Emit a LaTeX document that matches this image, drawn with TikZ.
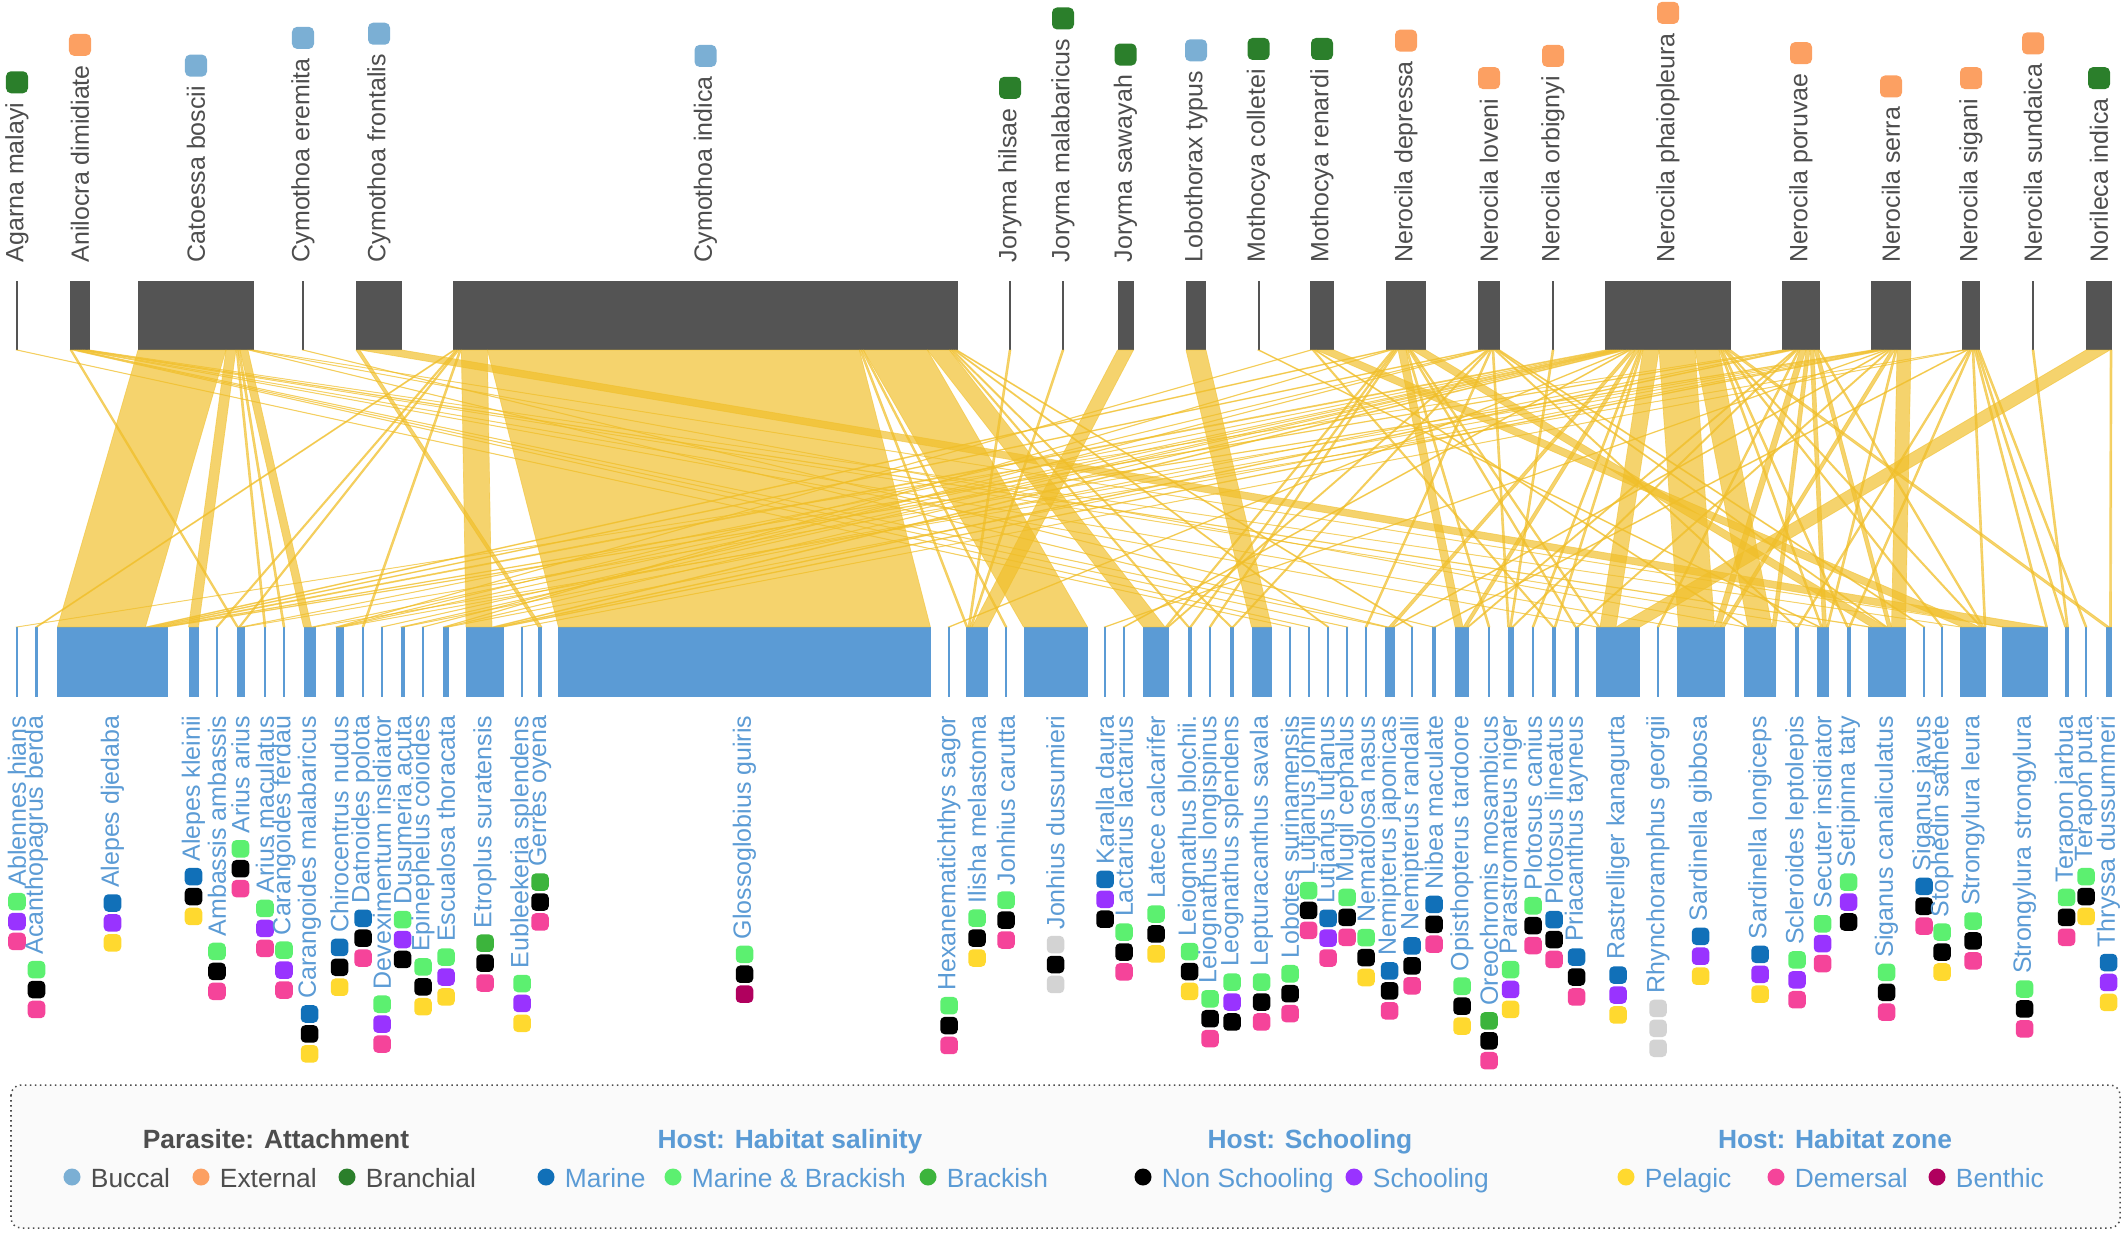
\documentclass[tikz,border=0pt]{standalone}
\usepackage{fontspec}
\setmainfont{Liberation Sans}
\usetikzlibrary{positioning,calc}

\definecolor{pargray}{HTML}{545454}
\definecolor{lbltop}{HTML}{4D4D4D}
\definecolor{hostblue}{HTML}{5B9BD5}
\definecolor{lnkyel}{RGB}{240,190,40}
\definecolor{buc}{HTML}{7BAFD4}
\definecolor{ext}{HTML}{FCA062}
\definecolor{bra}{HTML}{2B7F2B}
\definecolor{mar}{HTML}{1170B8}
\definecolor{mab}{HTML}{5CF070}
\definecolor{brk}{HTML}{3CB43C}
\definecolor{nsch}{HTML}{000000}
\definecolor{sch}{HTML}{9933FF}
\definecolor{pel}{HTML}{FFD92F}
\definecolor{dem}{HTML}{F5449A}
\definecolor{ben}{HTML}{B0005E}
\definecolor{unk}{HTML}{D3D3D3}

\tikzset{
  pbar/.style={fill=pargray, inner sep=0, outer sep=0, minimum height=0.69cm},
  hbar/.style={fill=hostblue, inner sep=0, outer sep=0, minimum height=0.70cm},
  plbl/.style={rotate=90, anchor=west, inner sep=0, text=lbltop, font=\fontsize{7.1pt}{8.5pt}\selectfont},
  hlbl/.style={rotate=90, anchor=east, inner sep=0, text=hostblue, font=\fontsize{7.1pt}{8.5pt}\selectfont},
  pmark/.style={inner sep=0, minimum size=0.22cm, rounded corners=0.05cm},
  hmark/.style={inner sep=0, minimum size=0.175cm, rounded corners=0.045cm},
  lnkfill/.style={fill=lnkyel, fill opacity=0.68, draw=lnkyel, draw opacity=0.55, line width=0.007cm, line join=round},
  lgdot/.style={circle, inner sep=0, minimum size=0.17cm},
  lgtitle/.style={font=\bfseries\fontsize{7.5pt}{9pt}\selectfont, inner sep=0, text height=1.6ex, text depth=0.45ex},
  lgtxt/.style={font=\fontsize{7.5pt}{9pt}\selectfont, inner sep=0, anchor=west, text height=1.6ex, text depth=0.45ex},
}

% ribbon from parasite #1 to host #2, weight #3 (stacked left to right)
\newcommand{\lnk}[3]{%
  \ifcsname off#1\endcsname\else\expandafter\gdef\csname off#1\endcsname{0}\fi
  \ifcsname off#2\endcsname\else\expandafter\gdef\csname off#2\endcsname{0}\fi
  \pgfmathsetmacro{\lkta}{2*\csname off#1\endcsname}%
  \pgfmathsetmacro{\lktb}{\lkta+2*#3}%
  \pgfmathsetmacro{\lkba}{2*\csname off#2\endcsname}%
  \pgfmathsetmacro{\lkbb}{\lkba+2*#3}%
  \filldraw[lnkfill] ($(#1.south west)+(\lkta,0)$) -- ($(#1.south west)+(\lktb,0)$)
    -- ($(#2.north west)+(\lkbb,0)$) -- ($(#2.north west)+(\lkba,0)$) -- cycle;
  \pgfmathsetmacro{\lktmp}{\csname off#1\endcsname+#3}\expandafter\xdef\csname off#1\endcsname{\lktmp}%
  \pgfmathsetmacro{\lktmp}{\csname off#2\endcsname+#3}\expandafter\xdef\csname off#2\endcsname{\lktmp}%
}

\begin{document}
\begin{tikzpicture}[x=0.01cm, y=-0.01cm]
\useasboundingbox (0,0) rectangle (2128,1234);

% parasites
\node[pbar, minimum width=0.02cm] (agm) at (17,315.5) {};
\node[pbar, minimum width=0.20cm] (ani) at (80,315.5) {};
\node[pbar, minimum width=1.16cm] (cat) at (196,315.5) {};
\node[pbar, minimum width=0.02cm] (cer) at (303,315.5) {};
\node[pbar, minimum width=0.46cm] (cfr) at (379,315.5) {};
\node[pbar, minimum width=5.04cm] (cin) at (705.5,315.5) {};
\node[pbar, minimum width=0.02cm] (jhi) at (1010,315.5) {};
\node[pbar, minimum width=0.02cm] (jma) at (1063,315.5) {};
\node[pbar, minimum width=0.16cm] (jsa) at (1125.5,315.5) {};
\node[pbar, minimum width=0.20cm] (lty) at (1196,315.5) {};
\node[pbar, minimum width=0.02cm] (mco) at (1258.5,315.5) {};
\node[pbar, minimum width=0.24cm] (mre) at (1322,315.5) {};
\node[pbar, minimum width=0.40cm] (nde) at (1406,315.5) {};
\node[pbar, minimum width=0.22cm] (nlo) at (1489,315.5) {};
\node[pbar, minimum width=0.02cm] (nor) at (1553,315.5) {};
\node[pbar, minimum width=1.26cm] (nph) at (1668,315.5) {};
\node[pbar, minimum width=0.38cm] (npo) at (1801,315.5) {};
\node[pbar, minimum width=0.40cm] (nse) at (1891,315.5) {};
\node[pbar, minimum width=0.18cm] (nsi) at (1971,315.5) {};
\node[pbar, minimum width=0.02cm] (nsu) at (2033,315.5) {};
\node[pbar, minimum width=0.26cm] (nin) at (2099,315.5) {};

\node[plbl] (agml) at (17,263) {Agarna malayi};
\node[pmark, fill=bra, above=0.08cm of agml.east] (agmm) {};
\node[plbl] (anil) at (80,263) {Anilocra dimidiate};
\node[pmark, fill=ext, above=0.08cm of anil.east] (anim) {};
\node[plbl] (catl) at (196,263) {Catoessa boscii};
\node[pmark, fill=buc, above=0.08cm of catl.east] (catm) {};
\node[plbl] (cerl) at (303,263) {Cymothoa eremita};
\node[pmark, fill=buc, above=0.08cm of cerl.east] (cerm) {};
\node[plbl] (cfrl) at (379,263) {Cymothoa frontalis};
\node[pmark, fill=buc, above=0.08cm of cfrl.east] (cfrm) {};
\node[plbl] (cinl) at (705.5,263) {Cymothoa indica};
\node[pmark, fill=buc, above=0.08cm of cinl.east] (cinm) {};
\node[plbl] (jhil) at (1010,263) {Joryma hilsae};
\node[pmark, fill=bra, above=0.08cm of jhil.east] (jhim) {};
\node[plbl] (jmal) at (1063,263) {Joryma malabaricus};
\node[pmark, fill=bra, above=0.08cm of jmal.east] (jmam) {};
\node[plbl] (jsal) at (1125.5,263) {Joryma sawayah};
\node[pmark, fill=bra, above=0.08cm of jsal.east] (jsam) {};
\node[plbl] (ltyl) at (1196,263) {Lobothorax typus};
\node[pmark, fill=buc, above=0.08cm of ltyl.east] (ltym) {};
\node[plbl] (mcol) at (1258.5,263) {Mothocya colletei};
\node[pmark, fill=bra, above=0.08cm of mcol.east] (mcom) {};
\node[plbl] (mrel) at (1322,263) {Mothocya renardi};
\node[pmark, fill=bra, above=0.08cm of mrel.east] (mrem) {};
\node[plbl] (ndel) at (1406,263) {Nerocila depressa};
\node[pmark, fill=ext, above=0.08cm of ndel.east] (ndem) {};
\node[plbl] (nlol) at (1489,263) {Nerocila loveni};
\node[pmark, fill=ext, above=0.08cm of nlol.east] (nlom) {};
\node[plbl] (norl) at (1553,263) {Nerocila orbignyi};
\node[pmark, fill=ext, above=0.08cm of norl.east] (norm) {};
\node[plbl] (nphl) at (1668,263) {Nerocila phaiopleura};
\node[pmark, fill=ext, above=0.08cm of nphl.east] (nphm) {};
\node[plbl] (npol) at (1801,263) {Nerocila poruvae};
\node[pmark, fill=ext, above=0.08cm of npol.east] (npom) {};
\node[plbl] (nsel) at (1891,263) {Nerocila serra};
\node[pmark, fill=ext, above=0.08cm of nsel.east] (nsem) {};
\node[plbl] (nsil) at (1971,263) {Nerocila sigani};
\node[pmark, fill=ext, above=0.08cm of nsil.east] (nsim) {};
\node[plbl] (nsul) at (2033,263) {Nerocila sundaica};
\node[pmark, fill=ext, above=0.08cm of nsul.east] (nsum) {};
\node[plbl] (ninl) at (2099,263) {Norileca indica};
\node[pmark, fill=bra, above=0.08cm of ninl.east] (ninm) {};

% hosts
\node[hbar, minimum width=0.02cm] (ahi) at (17,662) {};
\node[hbar, minimum width=0.02cm] (abe) at (36.5,662) {};
\node[hbar, minimum width=1.10cm] (adj) at (112.5,662) {};
\node[hbar, minimum width=0.10cm] (akl) at (193.5,662) {};
\node[hbar, minimum width=0.02cm] (aam) at (217,662) {};
\node[hbar, minimum width=0.08cm] (aar) at (240.5,662) {};
\node[hbar, minimum width=0.02cm] (ama) at (265,662) {};
\node[hbar, minimum width=0.02cm] (cfe) at (284,662) {};
\node[hbar, minimum width=0.12cm] (cma) at (309.5,662) {};
\node[hbar, minimum width=0.08cm] (cnu) at (339.5,662) {};
\node[hbar, minimum width=0.02cm] (dpo) at (363,662) {};
\node[hbar, minimum width=0.02cm] (din) at (382,662) {};
\node[hbar, minimum width=0.04cm] (dac) at (402.5,662) {};
\node[hbar, minimum width=0.02cm] (eco) at (423,662) {};
\node[hbar, minimum width=0.06cm] (eth) at (446,662) {};
\node[hbar, minimum width=0.38cm] (esu) at (485,662) {};
\node[hbar, minimum width=0.02cm] (esp) at (522,662) {};
\node[hbar, minimum width=0.04cm] (goy) at (540,662) {};
\node[hbar, minimum width=3.72cm] (ggu) at (744.5,662) {};
\node[hbar, minimum width=0.02cm] (hsa) at (949,662) {};
\node[hbar, minimum width=0.22cm] (ime) at (977,662) {};
\node[hbar, minimum width=0.02cm] (jca) at (1006,662) {};
\node[hbar, minimum width=0.64cm] (jdu) at (1055.5,662) {};
\node[hbar, minimum width=0.02cm] (kda) at (1105,662) {};
\node[hbar, minimum width=0.02cm] (lla) at (1124,662) {};
\node[hbar, minimum width=0.26cm] (lca) at (1156,662) {};
\node[hbar, minimum width=0.04cm] (lbl) at (1189.5,662) {};
\node[hbar, minimum width=0.02cm] (llo) at (1210,662) {};
\node[hbar, minimum width=0.04cm] (lsp) at (1232,662) {};
\node[hbar, minimum width=0.20cm] (lsa) at (1261.5,662) {};
\node[hbar, minimum width=0.02cm] (lsu) at (1290,662) {};
\node[hbar, minimum width=0.02cm] (ljo) at (1308.5,662) {};
\node[hbar, minimum width=0.02cm] (llu) at (1328,662) {};
\node[hbar, minimum width=0.02cm] (mce) at (1347,662) {};
\node[hbar, minimum width=0.02cm] (nna) at (1366,662) {};
\node[hbar, minimum width=0.10cm] (nja) at (1389.5,662) {};
\node[hbar, minimum width=0.02cm] (nra) at (1412,662) {};
\node[hbar, minimum width=0.04cm] (nma) at (1434,662) {};
\node[hbar, minimum width=0.14cm] (ota) at (1462,662) {};
\node[hbar, minimum width=0.02cm] (omo) at (1489,662) {};
\node[hbar, minimum width=0.06cm] (pni) at (1510.5,662) {};
\node[hbar, minimum width=0.02cm] (pca) at (1533,662) {};
\node[hbar, minimum width=0.04cm] (pli) at (1554,662) {};
\node[hbar, minimum width=0.04cm] (pta) at (1576.5,662) {};
\node[hbar, minimum width=0.44cm] (rka) at (1618,662) {};
\node[hbar, minimum width=0.02cm] (rge) at (1658,662) {};
\node[hbar, minimum width=0.48cm] (sgi) at (1700.5,662) {};
\node[hbar, minimum width=0.32cm] (slo) at (1760,662) {};
\node[hbar, minimum width=0.04cm] (scl) at (1797,662) {};
\node[hbar, minimum width=0.12cm] (sin) at (1822.5,662) {};
\node[hbar, minimum width=0.04cm] (sta) at (1848.5,662) {};
\node[hbar, minimum width=0.38cm] (sca) at (1886.5,662) {};
\node[hbar, minimum width=0.02cm] (sja) at (1924,662) {};
\node[hbar, minimum width=0.02cm] (ssa) at (1942,662) {};
\node[hbar, minimum width=0.26cm] (stl) at (1973,662) {};
\node[hbar, minimum width=0.46cm] (sts) at (2024.5,662) {};
\node[hbar, minimum width=0.04cm] (tja) at (2066.5,662) {};
\node[hbar, minimum width=0.02cm] (tpu) at (2086,662) {};
\node[hbar, minimum width=0.06cm] (tdu) at (2108.5,662) {};

\node[hlbl] (ahil) at (17,715) {Ablennes hians};
\node[hmark, fill=mab, below=0.05cm of ahil.west] (ahia) {}; \node[hmark, fill=sch, below=0.01cm of ahia] (ahib) {}; \node[hmark, fill=dem, below=0.01cm of ahib] (ahic) {};
\node[hlbl] (abel) at (36.5,715) {Acanthopagrus berda};
\node[hmark, fill=mab, below=0.05cm of abel.west] (abea) {}; \node[hmark, fill=nsch, below=0.01cm of abea] (abeb) {}; \node[hmark, fill=dem, below=0.01cm of abeb] (abec) {};
\node[hlbl] (adjl) at (112.5,715) {Alepes djedaba};
\node[hmark, fill=mar, below=0.05cm of adjl.west] (adja) {}; \node[hmark, fill=sch, below=0.01cm of adja] (adjb) {}; \node[hmark, fill=pel, below=0.01cm of adjb] (adjc) {};
\node[hlbl] (akll) at (193.5,715) {Alepes kleinii};
\node[hmark, fill=mar, below=0.05cm of akll.west] (akla) {}; \node[hmark, fill=nsch, below=0.01cm of akla] (aklb) {}; \node[hmark, fill=pel, below=0.01cm of aklb] (aklc) {};
\node[hlbl] (aaml) at (217,715) {Ambassis ambassis};
\node[hmark, fill=mab, below=0.05cm of aaml.west] (aama) {}; \node[hmark, fill=nsch, below=0.01cm of aama] (aamb) {}; \node[hmark, fill=dem, below=0.01cm of aamb] (aamc) {};
\node[hlbl] (aarl) at (240.5,715) {Arius arius};
\node[hmark, fill=mab, below=0.05cm of aarl.west] (aara) {}; \node[hmark, fill=nsch, below=0.01cm of aara] (aarb) {}; \node[hmark, fill=dem, below=0.01cm of aarb] (aarc) {};
\node[hlbl] (amal) at (265,715) {Arius maculatus};
\node[hmark, fill=mab, below=0.05cm of amal.west] (amaa) {}; \node[hmark, fill=sch, below=0.01cm of amaa] (amab) {}; \node[hmark, fill=dem, below=0.01cm of amab] (amac) {};
\node[hlbl] (cfel) at (284,715) {Carangoides ferdau};
\node[hmark, fill=mab, below=0.05cm of cfel.west] (cfea) {}; \node[hmark, fill=sch, below=0.01cm of cfea] (cfeb) {}; \node[hmark, fill=dem, below=0.01cm of cfeb] (cfec) {};
\node[hlbl] (cmal) at (309.5,715) {Carangoides malabaricus};
\node[hmark, fill=mar, below=0.05cm of cmal.west] (cmaa) {}; \node[hmark, fill=nsch, below=0.01cm of cmaa] (cmab) {}; \node[hmark, fill=pel, below=0.01cm of cmab] (cmac) {};
\node[hlbl] (cnul) at (339.5,715) {Chirocentrus nudus};
\node[hmark, fill=mar, below=0.05cm of cnul.west] (cnua) {}; \node[hmark, fill=nsch, below=0.01cm of cnua] (cnub) {}; \node[hmark, fill=pel, below=0.01cm of cnub] (cnuc) {};
\node[hlbl] (dpol) at (363,715) {Datnoides polota};
\node[hmark, fill=mar, below=0.05cm of dpol.west] (dpoa) {}; \node[hmark, fill=nsch, below=0.01cm of dpoa] (dpob) {}; \node[hmark, fill=dem, below=0.01cm of dpob] (dpoc) {};
\node[hlbl] (dinl) at (382,715) {Deveximentum insidiator};
\node[hmark, fill=mab, below=0.05cm of dinl.west] (dina) {}; \node[hmark, fill=sch, below=0.01cm of dina] (dinb) {}; \node[hmark, fill=dem, below=0.01cm of dinb] (dinc) {};
\node[hlbl] (dacl) at (402.5,715) {Dusumeria acuta};
\node[hmark, fill=mab, below=0.05cm of dacl.west] (daca) {}; \node[hmark, fill=sch, below=0.01cm of daca] (dacb) {}; \node[hmark, fill=nsch, below=0.01cm of dacb] (dacc) {};
\node[hlbl] (ecol) at (423,715) {Epinephelus coioides};
\node[hmark, fill=mab, below=0.05cm of ecol.west] (ecoa) {}; \node[hmark, fill=nsch, below=0.01cm of ecoa] (ecob) {}; \node[hmark, fill=pel, below=0.01cm of ecob] (ecoc) {};
\node[hlbl] (ethl) at (446,715) {Escualosa thoracata};
\node[hmark, fill=mab, below=0.05cm of ethl.west] (etha) {}; \node[hmark, fill=sch, below=0.01cm of etha] (ethb) {}; \node[hmark, fill=pel, below=0.01cm of ethb] (ethc) {};
\node[hlbl] (esul) at (485,715) {Etroplus suratensis};
\node[hmark, fill=brk, below=0.05cm of esul.west] (esua) {}; \node[hmark, fill=nsch, below=0.01cm of esua] (esub) {}; \node[hmark, fill=dem, below=0.01cm of esub] (esuc) {};
\node[hlbl] (espl) at (522,715) {Eubleekeria splendens};
\node[hmark, fill=mab, below=0.05cm of espl.west] (espa) {}; \node[hmark, fill=sch, below=0.01cm of espa] (espb) {}; \node[hmark, fill=pel, below=0.01cm of espb] (espc) {};
\node[hlbl] (goyl) at (540,715) {Gerres oyena};
\node[hmark, fill=brk, below=0.05cm of goyl.west] (goya) {}; \node[hmark, fill=nsch, below=0.01cm of goya] (goyb) {}; \node[hmark, fill=dem, below=0.01cm of goyb] (goyc) {};
\node[hlbl] (ggul) at (744.5,715) {Glossoglobius guiris};
\node[hmark, fill=mab, below=0.05cm of ggul.west] (ggua) {}; \node[hmark, fill=nsch, below=0.01cm of ggua] (ggub) {}; \node[hmark, fill=ben, below=0.01cm of ggub] (gguc) {};
\node[hlbl] (hsal) at (949,715) {Hexanematichthys sagor};
\node[hmark, fill=mab, below=0.05cm of hsal.west] (hsaa) {}; \node[hmark, fill=nsch, below=0.01cm of hsaa] (hsab) {}; \node[hmark, fill=dem, below=0.01cm of hsab] (hsac) {};
\node[hlbl] (imel) at (977,715) {Ilisha melastoma};
\node[hmark, fill=mab, below=0.05cm of imel.west] (imea) {}; \node[hmark, fill=nsch, below=0.01cm of imea] (imeb) {}; \node[hmark, fill=pel, below=0.01cm of imeb] (imec) {};
\node[hlbl] (jcal) at (1006,715) {Jonhius carutta};
\node[hmark, fill=mab, below=0.05cm of jcal.west] (jcaa) {}; \node[hmark, fill=nsch, below=0.01cm of jcaa] (jcab) {}; \node[hmark, fill=dem, below=0.01cm of jcab] (jcac) {};
\node[hlbl] (jdul) at (1055.5,715) {Jonhius dussumieri};
\node[hmark, fill=unk, below=0.05cm of jdul.west] (jdua) {}; \node[hmark, fill=nsch, below=0.01cm of jdua] (jdub) {}; \node[hmark, fill=unk, below=0.01cm of jdub] (jduc) {};
\node[hlbl] (kdal) at (1105,715) {Karalla daura};
\node[hmark, fill=mar, below=0.05cm of kdal.west] (kdaa) {}; \node[hmark, fill=sch, below=0.01cm of kdaa] (kdab) {}; \node[hmark, fill=nsch, below=0.01cm of kdab] (kdac) {};
\node[hlbl] (llal) at (1124,715) {Lactarius lactarius};
\node[hmark, fill=mab, below=0.05cm of llal.west] (llaa) {}; \node[hmark, fill=nsch, below=0.01cm of llaa] (llab) {}; \node[hmark, fill=dem, below=0.01cm of llab] (llac) {};
\node[hlbl] (lcal) at (1156,715) {Latece calcarifer};
\node[hmark, fill=mab, below=0.05cm of lcal.west] (lcaa) {}; \node[hmark, fill=nsch, below=0.01cm of lcaa] (lcab) {}; \node[hmark, fill=pel, below=0.01cm of lcab] (lcac) {};
\node[hlbl] (lbll) at (1189.5,715) {Leiognathus blochii.};
\node[hmark, fill=mab, below=0.05cm of lbll.west] (lbla) {}; \node[hmark, fill=nsch, below=0.01cm of lbla] (lblb) {}; \node[hmark, fill=pel, below=0.01cm of lblb] (lblc) {};
\node[hlbl] (llol) at (1210,715) {Leiognathus longispinus};
\node[hmark, fill=mab, below=0.05cm of llol.west] (lloa) {}; \node[hmark, fill=nsch, below=0.01cm of lloa] (llob) {}; \node[hmark, fill=dem, below=0.01cm of llob] (lloc) {};
\node[hlbl] (lspl) at (1232,715) {Leognathus splendens};
\node[hmark, fill=mab, below=0.05cm of lspl.west] (lspa) {}; \node[hmark, fill=sch, below=0.01cm of lspa] (lspb) {}; \node[hmark, fill=nsch, below=0.01cm of lspb] (lspc) {};
\node[hlbl] (lsal) at (1261.5,715) {Lepturacanthus savala};
\node[hmark, fill=mab, below=0.05cm of lsal.west] (lsaa) {}; \node[hmark, fill=nsch, below=0.01cm of lsaa] (lsab) {}; \node[hmark, fill=dem, below=0.01cm of lsab] (lsac) {};
\node[hlbl] (lsul) at (1290,715) {Lobotes surinamensis};
\node[hmark, fill=mab, below=0.05cm of lsul.west] (lsua) {}; \node[hmark, fill=nsch, below=0.01cm of lsua] (lsub) {}; \node[hmark, fill=dem, below=0.01cm of lsub] (lsuc) {};
\node[hlbl] (ljol) at (1308.5,715) {Lutjanus johnii};
\node[hmark, fill=mab, below=0.05cm of ljol.west] (ljoa) {}; \node[hmark, fill=nsch, below=0.01cm of ljoa] (ljob) {}; \node[hmark, fill=dem, below=0.01cm of ljob] (ljoc) {};
\node[hlbl] (llul) at (1328,715) {Lutjanus lutjanus};
\node[hmark, fill=mar, below=0.05cm of llul.west] (llua) {}; \node[hmark, fill=sch, below=0.01cm of llua] (llub) {}; \node[hmark, fill=dem, below=0.01cm of llub] (lluc) {};
\node[hlbl] (mcel) at (1347,715) {Mugil cephalus};
\node[hmark, fill=mab, below=0.05cm of mcel.west] (mcea) {}; \node[hmark, fill=nsch, below=0.01cm of mcea] (mceb) {}; \node[hmark, fill=dem, below=0.01cm of mceb] (mcec) {};
\node[hlbl] (nnal) at (1366,715) {Nematolosa nasus};
\node[hmark, fill=mab, below=0.05cm of nnal.west] (nnaa) {}; \node[hmark, fill=nsch, below=0.01cm of nnaa] (nnab) {}; \node[hmark, fill=pel, below=0.01cm of nnab] (nnac) {};
\node[hlbl] (njal) at (1389.5,715) {Nemipterus japonicas};
\node[hmark, fill=mar, below=0.05cm of njal.west] (njaa) {}; \node[hmark, fill=nsch, below=0.01cm of njaa] (njab) {}; \node[hmark, fill=dem, below=0.01cm of njab] (njac) {};
\node[hlbl] (nral) at (1412,715) {Nemipterus randalli};
\node[hmark, fill=mar, below=0.05cm of nral.west] (nraa) {}; \node[hmark, fill=nsch, below=0.01cm of nraa] (nrab) {}; \node[hmark, fill=dem, below=0.01cm of nrab] (nrac) {};
\node[hlbl] (nmal) at (1434,715) {Nibea maculate};
\node[hmark, fill=mar, below=0.05cm of nmal.west] (nmaa) {}; \node[hmark, fill=nsch, below=0.01cm of nmaa] (nmab) {}; \node[hmark, fill=dem, below=0.01cm of nmab] (nmac) {};
\node[hlbl] (otal) at (1462,715) {Opisthopterus tardoore};
\node[hmark, fill=mab, below=0.05cm of otal.west] (otaa) {}; \node[hmark, fill=nsch, below=0.01cm of otaa] (otab) {}; \node[hmark, fill=pel, below=0.01cm of otab] (otac) {};
\node[hlbl] (omol) at (1489,715) {Oreochromis mosambicus};
\node[hmark, fill=brk, below=0.05cm of omol.west] (omoa) {}; \node[hmark, fill=nsch, below=0.01cm of omoa] (omob) {}; \node[hmark, fill=dem, below=0.01cm of omob] (omoc) {};
\node[hlbl] (pnil) at (1510.5,715) {Parastromateus niger};
\node[hmark, fill=mab, below=0.05cm of pnil.west] (pnia) {}; \node[hmark, fill=sch, below=0.01cm of pnia] (pnib) {}; \node[hmark, fill=pel, below=0.01cm of pnib] (pnic) {};
\node[hlbl] (pcal) at (1533,715) {Plotosus canius};
\node[hmark, fill=mab, below=0.05cm of pcal.west] (pcaa) {}; \node[hmark, fill=nsch, below=0.01cm of pcaa] (pcab) {}; \node[hmark, fill=dem, below=0.01cm of pcab] (pcac) {};
\node[hlbl] (plil) at (1554,715) {Plotosus lineatus};
\node[hmark, fill=mar, below=0.05cm of plil.west] (plia) {}; \node[hmark, fill=nsch, below=0.01cm of plia] (plib) {}; \node[hmark, fill=dem, below=0.01cm of plib] (plic) {};
\node[hlbl] (ptal) at (1576.5,715) {Priacanthus tayneus};
\node[hmark, fill=mar, below=0.05cm of ptal.west] (ptaa) {}; \node[hmark, fill=nsch, below=0.01cm of ptaa] (ptab) {}; \node[hmark, fill=dem, below=0.01cm of ptab] (ptac) {};
\node[hlbl] (rkal) at (1618,715) {Rastrelliger kanagurta};
\node[hmark, fill=mar, below=0.05cm of rkal.west] (rkaa) {}; \node[hmark, fill=sch, below=0.01cm of rkaa] (rkab) {}; \node[hmark, fill=pel, below=0.01cm of rkab] (rkac) {};
\node[hlbl] (rgel) at (1658,715) {Rhynchoramphus georgii};
\node[hmark, fill=unk, below=0.05cm of rgel.west] (rgea) {}; \node[hmark, fill=unk, below=0.01cm of rgea] (rgeb) {}; \node[hmark, fill=unk, below=0.01cm of rgeb] (rgec) {};
\node[hlbl] (sgil) at (1700.5,715) {Sardinella gibbosa};
\node[hmark, fill=mar, below=0.05cm of sgil.west] (sgia) {}; \node[hmark, fill=sch, below=0.01cm of sgia] (sgib) {}; \node[hmark, fill=pel, below=0.01cm of sgib] (sgic) {};
\node[hlbl] (slol) at (1760,715) {Sardinella longiceps};
\node[hmark, fill=mar, below=0.05cm of slol.west] (sloa) {}; \node[hmark, fill=sch, below=0.01cm of sloa] (slob) {}; \node[hmark, fill=pel, below=0.01cm of slob] (sloc) {};
\node[hlbl] (scll) at (1797,715) {Scleroides leptolepis};
\node[hmark, fill=mab, below=0.05cm of scll.west] (scla) {}; \node[hmark, fill=sch, below=0.01cm of scla] (sclb) {}; \node[hmark, fill=dem, below=0.01cm of sclb] (sclc) {};
\node[hlbl] (sinl) at (1822.5,715) {Secuter insidiator};
\node[hmark, fill=mab, below=0.05cm of sinl.west] (sina) {}; \node[hmark, fill=sch, below=0.01cm of sina] (sinb) {}; \node[hmark, fill=dem, below=0.01cm of sinb] (sinc) {};
\node[hlbl] (stal) at (1848.5,715) {Setipinna taty};
\node[hmark, fill=mab, below=0.05cm of stal.west] (staa) {}; \node[hmark, fill=sch, below=0.01cm of staa] (stab) {}; \node[hmark, fill=nsch, below=0.01cm of stab] (stac) {};
\node[hlbl] (scal) at (1886.5,715) {Siganus canaliculatus};
\node[hmark, fill=mab, below=0.05cm of scal.west] (scaa) {}; \node[hmark, fill=nsch, below=0.01cm of scaa] (scab) {}; \node[hmark, fill=dem, below=0.01cm of scab] (scac) {};
\node[hlbl] (sjal) at (1924,715) {Siganus javus};
\node[hmark, fill=mar, below=0.05cm of sjal.west] (sjaa) {}; \node[hmark, fill=nsch, below=0.01cm of sjaa] (sjab) {}; \node[hmark, fill=dem, below=0.01cm of sjab] (sjac) {};
\node[hlbl] (ssal) at (1942,715) {Stophedin sathete};
\node[hmark, fill=mab, below=0.05cm of ssal.west] (ssaa) {}; \node[hmark, fill=nsch, below=0.01cm of ssaa] (ssab) {}; \node[hmark, fill=pel, below=0.01cm of ssab] (ssac) {};
\node[hlbl] (stll) at (1973,715) {Strongylura leura};
\node[hmark, fill=mab, below=0.05cm of stll.west] (stla) {}; \node[hmark, fill=nsch, below=0.01cm of stla] (stlb) {}; \node[hmark, fill=dem, below=0.01cm of stlb] (stlc) {};
\node[hlbl] (stsl) at (2024.5,715) {Strongylura strongylura};
\node[hmark, fill=mab, below=0.05cm of stsl.west] (stsa) {}; \node[hmark, fill=nsch, below=0.01cm of stsa] (stsb) {}; \node[hmark, fill=dem, below=0.01cm of stsb] (stsc) {};
\node[hlbl] (tjal) at (2066.5,715) {Terapon jarbua};
\node[hmark, fill=mab, below=0.05cm of tjal.west] (tjaa) {}; \node[hmark, fill=nsch, below=0.01cm of tjaa] (tjab) {}; \node[hmark, fill=dem, below=0.01cm of tjab] (tjac) {};
\node[hlbl] (tpul) at (2086,715) {Terapon puta};
\node[hmark, fill=mab, below=0.05cm of tpul.west] (tpua) {}; \node[hmark, fill=nsch, below=0.01cm of tpua] (tpub) {}; \node[hmark, fill=pel, below=0.01cm of tpub] (tpuc) {};
\node[hlbl] (tdul) at (2108.5,715) {Thryssa dussummeri};
\node[hmark, fill=mar, below=0.05cm of tdul.west] (tdua) {}; \node[hmark, fill=sch, below=0.01cm of tdua] (tdub) {}; \node[hmark, fill=pel, below=0.01cm of tdub] (tduc) {};

% interactions
\lnk{agm}{lsu}{1}
\lnk{ani}{aar}{1} \lnk{ani}{ljo}{1} \lnk{ani}{mce}{1} \lnk{ani}{nja}{1} \lnk{ani}{rka}{1}
\lnk{ani}{sgi}{1} \lnk{ani}{sin}{1} \lnk{ani}{sca}{2} \lnk{ani}{stl}{1}
\lnk{cat}{adj}{44} \lnk{cat}{akl}{5} \lnk{cat}{ama}{1} \lnk{cat}{cfe}{1} \lnk{cat}{cma}{4}
\lnk{cat}{nja}{1} \lnk{cat}{slo}{1} \lnk{cat}{sts}{1}
\lnk{cer}{nma}{1}
\lnk{cfr}{goy}{2} \lnk{cfr}{sts}{21}
\lnk{cin}{abe}{1} \lnk{cin}{aam}{1} \lnk{cin}{aar}{1} \lnk{cin}{dpo}{1} \lnk{cin}{esu}{13}
\lnk{cin}{ggu}{186} \lnk{cin}{ime}{1} \lnk{cin}{jca}{1} \lnk{cin}{jdu}{32} \lnk{cin}{lca}{11}
\lnk{cin}{lbl}{1} \lnk{cin}{lsp}{1} \lnk{cin}{llu}{1} \lnk{cin}{nra}{1}
\lnk{jhi}{ime}{1}
\lnk{jma}{ime}{1}
\lnk{jsa}{ime}{8}
\lnk{lty}{lsa}{10}
\lnk{mco}{sin}{1}
\lnk{mre}{cnu}{1} \lnk{mre}{pli}{1} \lnk{mre}{slo}{1} \lnk{mre}{stl}{9}
\lnk{nde}{adj}{2} \lnk{nde}{eth}{1} \lnk{nde}{lca}{1} \lnk{nde}{lbl}{1} \lnk{nde}{llo}{1}
\lnk{nde}{ota}{4} \lnk{nde}{omo}{1} \lnk{nde}{pta}{1} \lnk{nde}{rka}{1} \lnk{nde}{sca}{7}
\lnk{nlo}{adj}{2} \lnk{nlo}{cnu}{1} \lnk{nlo}{eco}{1} \lnk{nlo}{lca}{1} \lnk{nlo}{lsp}{1}
\lnk{nlo}{nna}{1} \lnk{nlo}{pni}{1} \lnk{nlo}{scl}{1} \lnk{nlo}{sca}{1} \lnk{nlo}{sja}{1}
\lnk{nor}{pni}{1}
\lnk{nph}{adj}{3} \lnk{nph}{aar}{1} \lnk{nph}{cma}{1} \lnk{nph}{cnu}{1} \lnk{nph}{din}{1}
\lnk{nph}{dac}{1} \lnk{nph}{eth}{1} \lnk{nph}{esu}{2} \lnk{nph}{hsa}{1} \lnk{nph}{lla}{1}
\lnk{nph}{nja}{2} \lnk{nph}{ota}{2} \lnk{nph}{pca}{1} \lnk{nph}{pli}{1} \lnk{nph}{rka}{8}
\lnk{nph}{sgi}{18} \lnk{nph}{slo}{12} \lnk{nph}{sin}{1} \lnk{nph}{sta}{1} \lnk{nph}{ssa}{1}
\lnk{nph}{stl}{1} \lnk{nph}{tdu}{2}
\lnk{npo}{ahi}{1} \lnk{npo}{adj}{2} \lnk{npo}{dac}{1} \lnk{npo}{esu}{2} \lnk{npo}{ota}{1}
\lnk{npo}{pni}{1} \lnk{npo}{rge}{1} \lnk{npo}{sgi}{3} \lnk{npo}{slo}{2} \lnk{npo}{sin}{2}
\lnk{npo}{sca}{2} \lnk{npo}{stl}{1}
\lnk{nse}{adj}{2} \lnk{nse}{aar}{1} \lnk{nse}{cnu}{1} \lnk{nse}{eth}{1} \lnk{nse}{esu}{2}
\lnk{nse}{kda}{1} \lnk{nse}{nja}{1} \lnk{nse}{pta}{1} \lnk{nse}{sgi}{2} \lnk{nse}{sin}{1}
\lnk{nse}{sca}{7}
\lnk{nsi}{cma}{1} \lnk{nsi}{esp}{1} \lnk{nsi}{nma}{1} \lnk{nsi}{scl}{1} \lnk{nsi}{sta}{1}
\lnk{nsi}{stl}{1} \lnk{nsi}{sts}{1} \lnk{nsi}{tja}{1} \lnk{nsi}{tpu}{1}
\lnk{nsu}{tja}{1}
\lnk{nin}{rka}{12} \lnk{nin}{tdu}{1}

% legend
\draw[densely dotted, draw=black!70, line width=0.015cm, fill=black!2, rounded corners=0.1cm] (11,1085) rectangle (2120,1228);
\node[lgtitle, text=lbltop] (lgpar) at (276,1138) {Parasite: Attachment};
\node[lgtitle, text=hostblue] (lgsal) at (790,1138) {Host: Habitat salinity};
\node[lgtitle, text=hostblue] (lgsch) at (1310,1138) {Host: Schooling};
\node[lgtitle, text=hostblue] (lgzon) at (1835,1138) {Host: Habitat zone};
\node[lgdot, fill=buc] (dbuc) at (72,1177) {};
\node[lgtxt, text=lbltop, right=0.09cm of dbuc] (tbuc) {Buccal};
\node[lgdot, fill=ext] (dext) at (201,1177) {};
\node[lgtxt, text=lbltop, right=0.09cm of dext] (text) {External};
\node[lgdot, fill=bra] (dbra) at (347,1177) {};
\node[lgtxt, text=lbltop, right=0.09cm of dbra] (tbra) {Branchial};
\node[lgdot, fill=mar] (dmar) at (546,1177) {};
\node[lgtxt, text=hostblue, right=0.09cm of dmar] (tmar) {Marine};
\node[lgdot, fill=mab] (dmab) at (673,1177) {};
\node[lgtxt, text=hostblue, right=0.09cm of dmab] (tmab) {Marine \& Brackish};
\node[lgdot, fill=brk] (dbrk) at (928,1177) {};
\node[lgtxt, text=hostblue, right=0.09cm of dbrk] (tbrk) {Brackish};
\node[lgdot, fill=nsch] (dnsch) at (1143,1177) {};
\node[lgtxt, text=hostblue, right=0.09cm of dnsch] (tnsch) {Non Schooling};
\node[lgdot, fill=sch] (dsch) at (1354,1177) {};
\node[lgtxt, text=hostblue, right=0.09cm of dsch] (tsch) {Schooling};
\node[lgdot, fill=pel] (dpel) at (1626,1177) {};
\node[lgtxt, text=hostblue, right=0.09cm of dpel] (tpel) {Pelagic};
\node[lgdot, fill=dem] (ddem) at (1776,1177) {};
\node[lgtxt, text=hostblue, right=0.09cm of ddem] (tdem) {Demersal};
\node[lgdot, fill=ben] (dben) at (1937,1177) {};
\node[lgtxt, text=hostblue, right=0.09cm of dben] (tben) {Benthic};
\end{tikzpicture}
\end{document}
